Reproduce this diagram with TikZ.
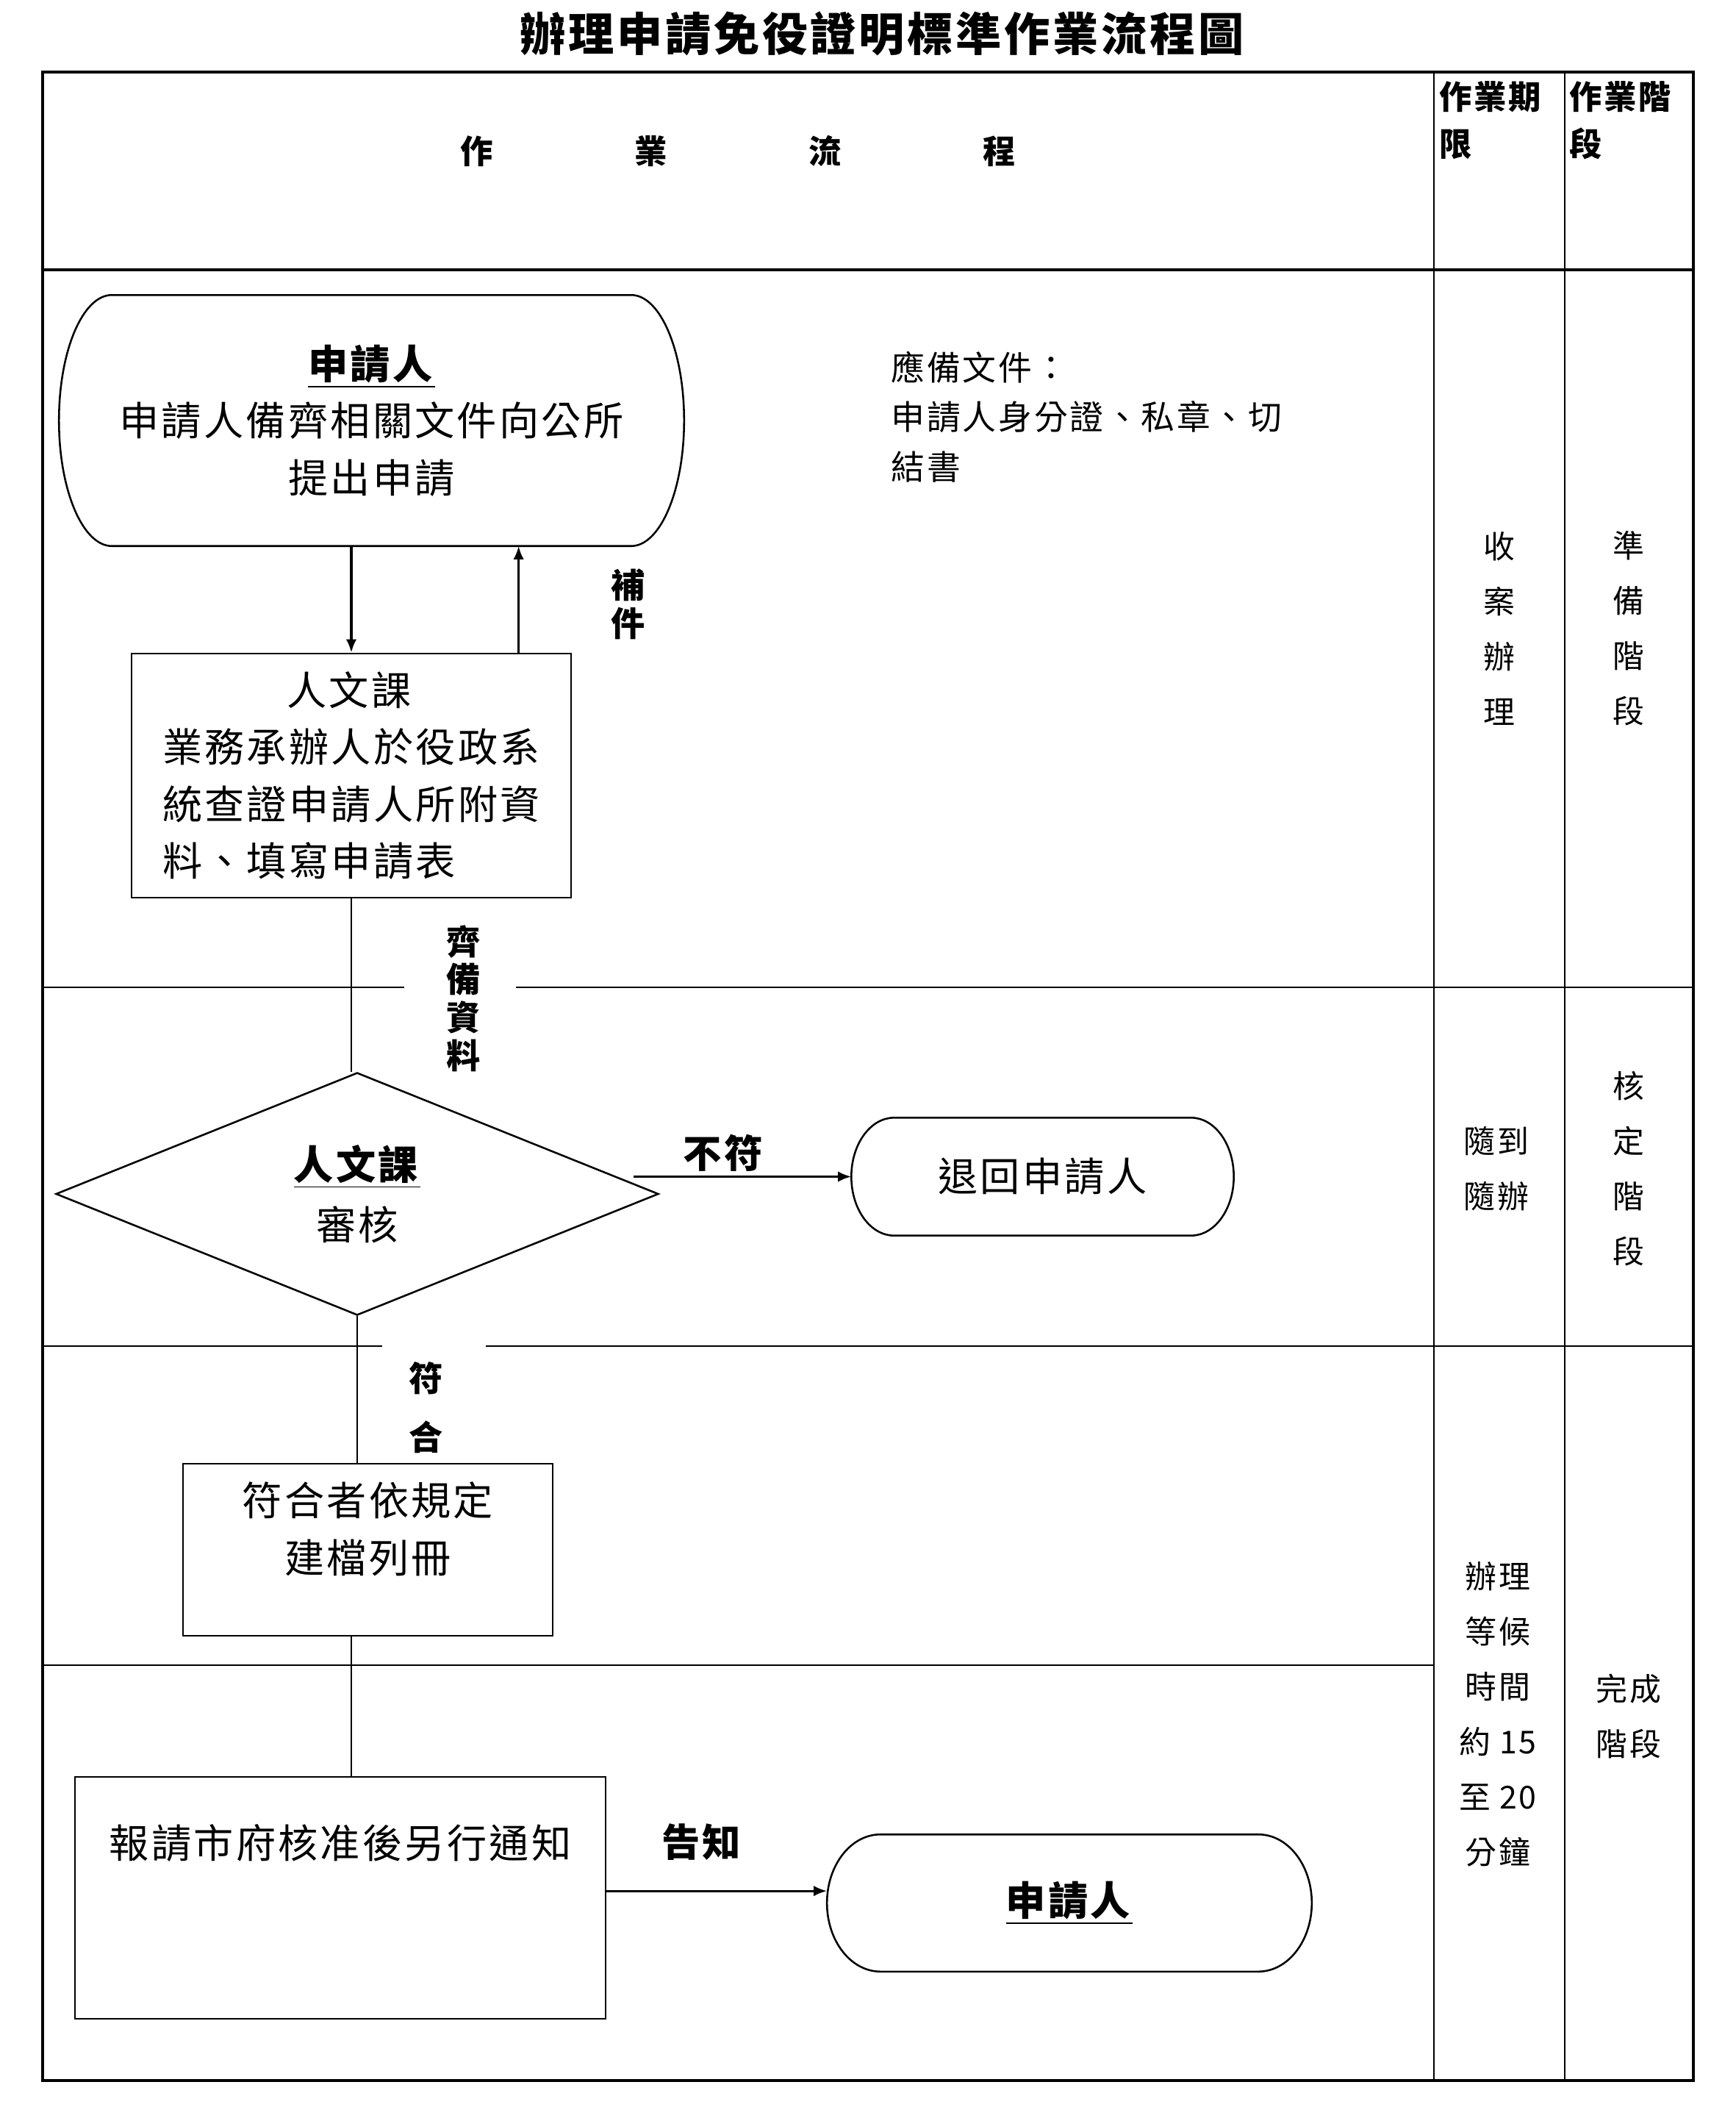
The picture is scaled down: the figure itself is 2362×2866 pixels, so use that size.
\documentclass[tikz,border=0pt]{standalone}
\usepackage{fontspec}
\setmainfont{Noto Sans CJK TC}[LetterSpace=6]
\usetikzlibrary{shapes.geometric, arrows.meta, positioning, calc}

\newcommand{\fbody}{\fontsize{14.9}{21.3}\selectfont}
\newcommand{\fnote}{\fontsize{12.6}{18.5}\selectfont}
\newcommand{\fcol}{\fontsize{11.8}{20.6}\selectfont}
\newcommand{\fhead}{\fontsize{12.2}{17.6}\selectfont\bfseries}
\newcommand{\ftitle}{\fontsize{17.1}{20}\selectfont\bfseries}
\newcommand{\flabel}{\fontsize{12.7}{14.2}\selectfont\bfseries}
\newcommand{\farrow}{\fontsize{14.4}{16}\selectfont\bfseries}
% outline of a terminal node: flat top and bottom, half-ellipse ends
\newcommand{\termline}[2]{%
  \draw[line width=0.7pt] let \p1=(#1.north east), \p2=(#1.south west), \n1={(\y1-\y2)/2} in
    (\x2+#2,\y1) -- (\x1-#2,\y1) arc[start angle=90, end angle=-90, x radius=#2, y radius={\n1*1pt}]
    -- (\x2+#2,\y2) arc[start angle=270, end angle=90, x radius=#2, y radius={\n1*1pt}] -- cycle;}

\begin{document}
\begin{tikzpicture}[x=0.275pt, y=-0.275pt,
    tabline/.style={line width=0.7pt},
    box/.style={draw, line width=0.7pt, inner sep=0pt},
    terminal/.style={inner sep=0pt},
    decide/.style={draw, diamond, aspect=2.5, line width=0.7pt, inner sep=0pt},
    conn/.style={line width=0.7pt},
    flow/.style={line width=0.9pt, -{Latex[length=5pt,width=4pt]}},
    lbl/.style={font=\flabel, align=center, inner sep=0pt},
    coltext/.style={font=\fcol, align=center, inner sep=0pt}]
\useasboundingbox (0,0) rectangle (2362,2866);

% Title and table frame
\node[font=\ftitle] (title) at (1200,46) {辦理申請免役證明標準作業流程圖};
\draw[line width=1pt] (58,98) rectangle (2304,2830);
\draw[line width=1pt] (58,367) -- (2304,367);
\foreach \cx in {1951,2129} \draw[tabline] (\cx,98) -- (\cx,2830);
\draw[tabline] (58,1343) -- (550,1343) (702,1343) -- (2304,1343);
\draw[tabline] (58,1831) -- (520,1831) (661,1831) -- (2304,1831);
\draw[tabline] (58,2265) -- (1951,2265);

% Header
\node[font=\fhead] (head) at (1004,205) {作\hspace{53pt}業\hspace{53pt}流\hspace{53pt}程};
\node[font=\fhead, align=left, anchor=west, inner sep=0pt] (hlimit) at (1958,164) {作業期\\限};
\node[font=\fhead, align=left, anchor=west, inner sep=0pt] (hstage) at (2135,164) {作業階\\段};

% Application
\node[terminal, font=\fbody, align=center, minimum width=233.5pt, minimum height=93.5pt] (apply) at (505.5,572)
    {\underline{\textbf{申請人}}\\申請人備齊相關文件向公所\\提出申請};
\termline{apply}{19.8pt}
\node[font=\fnote, align=left, anchor=west, inner sep=0pt] (docs) at (1212,567)
    {應備文件：\\申請人身分證、私章、切\\結書};
\node[box, font=\fbody, align=left, minimum width=164.5pt, minimum height=91.3pt] (chk) at (478,1055)
    {\hphantom{業務承}人文課\\業務承辦人於役政系\\統查證申請人所附資\\料、填寫申請表};
\draw[flow] (chk.north |- apply.south) -- (chk.north);
\coordinate (back) at ([xshift=-20pt]chk.north east);
\draw[flow] (back) -- (back |- apply.south);
\node[lbl] (more) at (855,822) {補\\件};

% Review
\node[decide, font=\fbody, align=center, minimum width=225.5pt, minimum height=90.75pt] (dia) at (486,1624)
    {\underline{\textbf{人文課}}\\[1.2pt]審核};
\draw[conn] (chk.south) -- (chk.south |- dia.north);
\node[lbl] (ready) at (631,1358) {齊\\備\\資\\料};
\node[terminal, font=\fbody, minimum width=142.7pt, minimum height=43.7pt] (rej) at (1418.5,1600.5) {退回申請人};
\termline{rej}{16pt}
\draw[flow] (rej.west -| dia.east) ++(-35,0) -- (rej.west) node[pos=0.41, above=1.5pt, font=\farrow, inner sep=0pt] {不符};

% Filing
\node[box, minimum width=138.3pt, minimum height=64.4pt] (file) at (500.5,2108) {};
\node[font=\fbody, align=center, inner sep=0pt, below=7pt of file.north] (filetext) {符合者依規定\\建檔列冊};
\draw[conn] (dia.south) -- (dia.south |- file.north);
\node[lbl] (pass) at (580,1915) {符\\[7.8pt]合};

% Report and notice
\node[box, minimum width=198.6pt, minimum height=90.5pt] (rep) at (463,2581.5) {};
\node[font=\fbody, inner sep=0pt, below=18pt of rep.north] (reptext) {報請市府核准後另行通知};
\draw[conn] (file.south -| chk.south) -- (chk.south |- rep.north);
\node[terminal, font=\fbody, minimum width=181pt, minimum height=50.9pt] (app) at (1455,2588.5) {\underline{\textbf{申請人}}};
\termline{app}{20pt}
\coordinate (tell) at ([yshift=4.5pt]app.west);
\draw[flow] (tell -| rep.east) -- (tell) node[pos=0.43, above=11pt, font=\farrow, inner sep=0pt] {告知};

% Time limits and stages
\node[coltext] (recv) at (2040,855) {收\\案\\辦\\理};
\node[coltext] (prep) at (2216,855) {準\\備\\階\\段};
\node[coltext] (now) at (2036,1590) {隨到\\隨辦};
\node[coltext] (check) at (2216,1590) {核\\定\\階\\段};
\node[coltext] (wait) at (2038,2332) {辦理\\等候\\時間\\約 15\\至 20\\分鐘};
\node[coltext] (done) at (2216,2335) {完成\\階段};
\end{tikzpicture}
\end{document}
